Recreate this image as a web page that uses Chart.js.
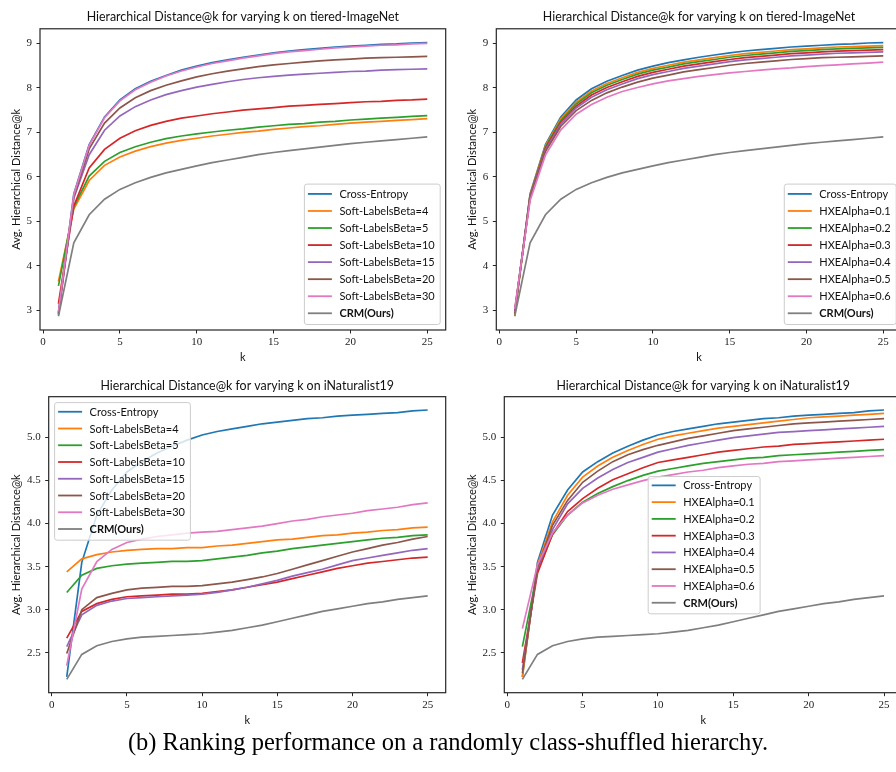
<!DOCTYPE html>
<html>
<head>
<meta charset="utf-8">
<title>Hierarchical Distance@k</title>
<script src="https://cdn.jsdelivr.net/npm/chart.js@4.4.0/dist/chart.umd.min.js"></script>
<style>
    html, body { margin: 0; padding: 0; background: #fff; width: 896px; height: 772px; overflow: hidden; }
    .plot { position: absolute; }
    #caption {
        position: absolute; left: 0; top: 729px; width: 896px;
        text-align: center; font-family: "Liberation Serif", serif;
        font-size: 24.5px; line-height: 26px; color: #000;
    }
</style>
</head>
<body>
<canvas id="tieredSoft" class="plot" style="left:0;top:0" width="448" height="372"></canvas>
<canvas id="tieredHxe" class="plot" style="left:448px;top:0" width="456" height="372"></canvas>
<canvas id="inatSoft" class="plot" style="left:0;top:372px" width="448" height="358"></canvas>
<canvas id="inatHxe" class="plot" style="left:448px;top:372px" width="456" height="358"></canvas>
<div id="caption">(b) Ranking performance on a randomly class-shuffled hierarchy.</div>

<script>
// k values (x axis) and tick labels
const kValues = [1, 2, 3, 4, 5, 6, 7, 8, 9, 10, 11, 12, 13, 14, 15, 16, 17, 18, 19, 20, 21, 22, 23, 24, 25];
const kTicks = [0, 5, 10, 15, 20, 25];
const tieredTicks = [3, 4, 5, 6, 7, 8, 9];
const inatTicks = [2.5, 3.0, 3.5, 4.0, 4.5, 5.0];

// series names
const softLabels = ['Cross-Entropy', 'Soft-LabelsBeta=4', 'Soft-LabelsBeta=5', 'Soft-LabelsBeta=10',
    'Soft-LabelsBeta=15', 'Soft-LabelsBeta=20', 'Soft-LabelsBeta=30', 'CRM(Ours)'];
const hxeLabels = ['Cross-Entropy', 'HXEAlpha=0.1', 'HXEAlpha=0.2', 'HXEAlpha=0.3',
    'HXEAlpha=0.4', 'HXEAlpha=0.5', 'HXEAlpha=0.6', 'CRM(Ours)'];

// tiered-ImageNet
const ceTiered = [2.95, 5.62, 6.73, 7.35, 7.73, 7.98, 8.15, 8.28, 8.40, 8.49, 8.57, 8.63, 8.69, 8.74, 8.79, 8.83, 8.86, 8.89, 8.92, 8.94, 8.96, 8.98, 8.99, 9.01, 9.02];
const softBeta4Tiered = [3.65, 5.28, 5.92, 6.26, 6.45, 6.58, 6.68, 6.76, 6.82, 6.87, 6.92, 6.96, 7.00, 7.03, 7.07, 7.10, 7.13, 7.15, 7.18, 7.21, 7.23, 7.25, 7.27, 7.29, 7.31];
const softBeta5Tiered = [3.55, 5.33, 6.02, 6.35, 6.55, 6.68, 6.78, 6.86, 6.92, 6.97, 7.01, 7.05, 7.08, 7.12, 7.15, 7.18, 7.20, 7.23, 7.25, 7.28, 7.30, 7.32, 7.34, 7.36, 7.38];
const softBeta10Tiered = [3.15, 5.35, 6.20, 6.62, 6.87, 7.04, 7.16, 7.25, 7.32, 7.37, 7.42, 7.46, 7.50, 7.53, 7.56, 7.59, 7.61, 7.63, 7.65, 7.67, 7.69, 7.70, 7.72, 7.73, 7.75];
const softBeta15Tiered = [2.90, 5.52, 6.50, 7.05, 7.37, 7.58, 7.73, 7.85, 7.94, 8.02, 8.08, 8.14, 8.19, 8.23, 8.26, 8.29, 8.31, 8.33, 8.35, 8.37, 8.38, 8.40, 8.41, 8.42, 8.43];
const softBeta20Tiered = [2.92, 5.55, 6.63, 7.21, 7.55, 7.78, 7.94, 8.06, 8.16, 8.25, 8.32, 8.38, 8.43, 8.48, 8.52, 8.55, 8.58, 8.61, 8.63, 8.65, 8.67, 8.68, 8.69, 8.70, 8.71];
const softBeta30Tiered = [2.97, 5.60, 6.71, 7.33, 7.71, 7.96, 8.13, 8.27, 8.38, 8.47, 8.55, 8.61, 8.67, 8.72, 8.77, 8.81, 8.84, 8.87, 8.90, 8.92, 8.94, 8.96, 8.97, 8.99, 9.00];
const hxe01Tiered = [2.88, 5.60, 6.70, 7.31, 7.68, 7.93, 8.10, 8.23, 8.35, 8.44, 8.51, 8.58, 8.63, 8.68, 8.73, 8.77, 8.80, 8.83, 8.86, 8.88, 8.90, 8.92, 8.93, 8.94, 8.95];
const hxe02Tiered = [2.92, 5.58, 6.67, 7.27, 7.64, 7.89, 8.06, 8.19, 8.31, 8.40, 8.47, 8.54, 8.59, 8.64, 8.69, 8.73, 8.76, 8.79, 8.82, 8.84, 8.86, 8.88, 8.89, 8.90, 8.91];
const hxe03Tiered = [2.95, 5.56, 6.64, 7.23, 7.59, 7.84, 8.01, 8.14, 8.26, 8.35, 8.42, 8.49, 8.54, 8.59, 8.64, 8.68, 8.71, 8.74, 8.77, 8.79, 8.81, 8.83, 8.84, 8.85, 8.86];
const hxe04Tiered = [2.97, 5.55, 6.61, 7.19, 7.55, 7.79, 7.96, 8.09, 8.21, 8.30, 8.37, 8.44, 8.49, 8.54, 8.59, 8.63, 8.66, 8.69, 8.72, 8.74, 8.76, 8.78, 8.79, 8.80, 8.81];
const hxe05Tiered = [3.00, 5.52, 6.57, 7.14, 7.49, 7.72, 7.89, 8.02, 8.13, 8.22, 8.29, 8.36, 8.41, 8.46, 8.51, 8.55, 8.58, 8.61, 8.64, 8.66, 8.68, 8.69, 8.70, 8.71, 8.72];
const hxe06Tiered = [3.03, 5.47, 6.49, 7.06, 7.41, 7.63, 7.79, 7.92, 8.01, 8.09, 8.16, 8.21, 8.26, 8.30, 8.34, 8.37, 8.40, 8.43, 8.45, 8.48, 8.50, 8.52, 8.54, 8.56, 8.58];
const crmTiered = [2.87, 4.52, 5.15, 5.50, 5.72, 5.87, 5.99, 6.09, 6.17, 6.25, 6.32, 6.38, 6.44, 6.50, 6.55, 6.59, 6.63, 6.67, 6.71, 6.75, 6.78, 6.81, 6.84, 6.87, 6.90];

// iNaturalist19
const ceInat = [2.22, 3.55, 4.10, 4.39, 4.60, 4.72, 4.82, 4.90, 4.97, 5.03, 5.07, 5.10, 5.13, 5.16, 5.18, 5.20, 5.22, 5.23, 5.25, 5.26, 5.27, 5.28, 5.29, 5.31, 5.32];
const softBeta4Inat = [3.44, 3.59, 3.64, 3.67, 3.69, 3.70, 3.71, 3.71, 3.72, 3.72, 3.74, 3.75, 3.77, 3.79, 3.81, 3.82, 3.84, 3.86, 3.87, 3.89, 3.90, 3.92, 3.93, 3.95, 3.96];
const softBeta5Inat = [3.20, 3.40, 3.48, 3.51, 3.53, 3.54, 3.55, 3.56, 3.56, 3.57, 3.59, 3.61, 3.63, 3.66, 3.68, 3.71, 3.73, 3.75, 3.77, 3.79, 3.81, 3.83, 3.84, 3.86, 3.87];
const softBeta10Inat = [2.67, 2.98, 3.07, 3.12, 3.15, 3.16, 3.17, 3.18, 3.18, 3.19, 3.21, 3.23, 3.26, 3.29, 3.32, 3.36, 3.40, 3.44, 3.48, 3.51, 3.54, 3.56, 3.58, 3.60, 3.61];
const softBeta15Inat = [2.57, 2.94, 3.05, 3.10, 3.13, 3.14, 3.15, 3.16, 3.17, 3.18, 3.20, 3.23, 3.26, 3.30, 3.34, 3.39, 3.43, 3.47, 3.52, 3.57, 3.60, 3.63, 3.66, 3.69, 3.71];
const softBeta20Inat = [2.49, 3.00, 3.14, 3.19, 3.23, 3.25, 3.26, 3.27, 3.27, 3.28, 3.30, 3.32, 3.35, 3.38, 3.42, 3.47, 3.52, 3.57, 3.62, 3.67, 3.71, 3.75, 3.78, 3.82, 3.85];
const softBeta30Inat = [2.35, 3.24, 3.56, 3.70, 3.78, 3.82, 3.85, 3.87, 3.89, 3.90, 3.91, 3.93, 3.95, 3.97, 4.00, 4.03, 4.05, 4.08, 4.10, 4.12, 4.15, 4.17, 4.19, 4.22, 4.24];
const hxe01Inat = [2.22, 3.52, 4.02, 4.33, 4.54, 4.67, 4.77, 4.85, 4.92, 4.98, 5.02, 5.05, 5.08, 5.11, 5.13, 5.15, 5.17, 5.19, 5.21, 5.23, 5.24, 5.25, 5.26, 5.27, 5.28];
const hxe02Inat = [2.57, 3.45, 3.87, 4.10, 4.25, 4.35, 4.43, 4.50, 4.56, 4.61, 4.64, 4.67, 4.70, 4.72, 4.74, 4.76, 4.77, 4.79, 4.80, 4.81, 4.82, 4.83, 4.84, 4.85, 4.86];
const hxe03Inat = [2.38, 3.42, 3.88, 4.14, 4.29, 4.41, 4.51, 4.58, 4.65, 4.71, 4.74, 4.77, 4.80, 4.83, 4.85, 4.87, 4.89, 4.90, 4.92, 4.93, 4.94, 4.95, 4.96, 4.97, 4.98];
const hxe04Inat = [2.30, 3.47, 3.93, 4.23, 4.41, 4.53, 4.63, 4.71, 4.77, 4.83, 4.87, 4.91, 4.94, 4.97, 5.00, 5.02, 5.04, 5.06, 5.07, 5.08, 5.09, 5.10, 5.11, 5.12, 5.13];
const hxe05Inat = [2.26, 3.49, 3.98, 4.27, 4.48, 4.61, 4.72, 4.80, 4.86, 4.91, 4.95, 4.99, 5.02, 5.05, 5.08, 5.10, 5.12, 5.14, 5.16, 5.17, 5.18, 5.19, 5.20, 5.21, 5.22];
const hxe06Inat = [2.78, 3.52, 3.89, 4.10, 4.24, 4.33, 4.40, 4.45, 4.50, 4.54, 4.57, 4.60, 4.62, 4.65, 4.67, 4.69, 4.70, 4.72, 4.73, 4.74, 4.75, 4.76, 4.77, 4.78, 4.79];
const crmInat = [2.19, 2.48, 2.58, 2.63, 2.66, 2.68, 2.69, 2.70, 2.71, 2.72, 2.74, 2.76, 2.79, 2.82, 2.86, 2.90, 2.94, 2.98, 3.01, 3.04, 3.07, 3.09, 3.12, 3.14, 3.16];

// matplotlib tab10
const colors = ['#1f77b4', '#ff7f0e', '#2ca02c', '#d62728', '#9467bd', '#8c564b', '#e377c2', '#7f7f7f'];

const xRange = [-0.2, 26.2];
const tieredRange = [2.56, 9.33];
const inatRange = [2.035, 5.475];

const SANS = 'Lato, "DejaVu Sans", sans-serif';
const SERIF = '"Liberation Serif", "DejaVu Serif", serif';

// box around the axes, like matplotlib spines
const frame = {
    id: 'frame',
    afterDatasetsDraw(chart) {
        const { ctx, chartArea: a } = chart;
        ctx.save();
        ctx.strokeStyle = '#262626';
        ctx.lineWidth = 1.2;
        ctx.strokeRect(a.left, a.top, a.right - a.left, a.bottom - a.top);
        ctx.restore();
    }
};

// legend drawn inside the axes
const boxLegend = {
    id: 'boxLegend',
    afterDraw(chart, args, opts) {
        const { ctx, chartArea: a } = chart;
        const items = chart.data.datasets;
        const last = items.length - 1;
        ctx.save();
        let maxW = 0;
        items.forEach((ds, i) => {
            ctx.font = (i === last ? 'bold ' : '') + opts.fontSize + 'px ' + SANS;
            maxW = Math.max(maxW, ctx.measureText(ds.label).width);
        });
        const w = 4 + 24 + 7.5 + maxW + 5;
        const h = opts.padT + opts.rowH * items.length + opts.padB;
        let left, top;
        if (opts.loc === 'lower right') {
            left = a.right - opts.inset - w;
            top = a.bottom - opts.inset - h;
        } else if (opts.loc === 'upper left') {
            left = a.left + opts.inset;
            top = a.top + opts.inset;
        } else {
            left = a.left + opts.dx;
            top = a.top + opts.dy;
        }
        ctx.beginPath();
        ctx.roundRect(left + 0.5, top + 0.5, w, h, 2.5);
        ctx.fillStyle = 'rgba(255,255,255,0.8)';
        ctx.fill();
        ctx.strokeStyle = '#cccccc';
        ctx.lineWidth = 1;
        ctx.stroke();
        ctx.textBaseline = 'middle';
        items.forEach((ds, i) => {
            const cy = top + opts.padT + opts.rowH * (i + 0.5);
            ctx.strokeStyle = ds.borderColor;
            ctx.lineWidth = 1.8;
            ctx.beginPath();
            ctx.moveTo(left + 4, cy);
            ctx.lineTo(left + 28, cy);
            ctx.stroke();
            ctx.font = (i === last ? 'bold ' : '') + opts.fontSize + 'px ' + SANS;
            ctx.fillStyle = '#111';
            ctx.fillText(ds.label, left + 35.5, cy + 0.5);
        });
        ctx.restore();
    }
};

function makeDatasets(labels, seriesList) {
    const n = seriesList.length;
    return seriesList.map((series, i) => ({
        label: labels[i],
        data: series.map((v, j) => ({ x: kValues[j], y: v })),
        borderColor: colors[i],
        backgroundColor: colors[i],
        borderWidth: 1.7,
        pointRadius: 0,
        tension: 0,
        fill: false,
        order: n - 1 - i   // later series drawn on top, as in matplotlib
    }));
}

/**
 * Build one Hierarchical Distance@k panel
 */
function createPanel(canvasId, title, labels, seriesList, yTicks, yRange, decimals, geom, legend) {
    const canvas = document.getElementById(canvasId);
    return new Chart(canvas.getContext('2d'), {
        type: 'line',
        data: { datasets: makeDatasets(labels, seriesList) },
        options: {
            responsive: false,
            devicePixelRatio: 1,
            animation: false,
            events: [],
            layout: { padding: { left: 0, right: geom.padRight, top: 0, bottom: 0 } },
            plugins: {
                legend: { display: false },
                tooltip: { enabled: false },
                boxLegend: legend,
                title: {
                    display: true,
                    text: title,
                    fullSize: false,
                    color: '#111',
                    font: { family: SANS, size: 12.4, weight: 'normal', lineHeight: 1.2 },
                    padding: { top: geom.titleTop, bottom: geom.titleBottom }
                }
            },
            scales: {
                x: {
                    type: 'linear',
                    min: xRange[0],
                    max: xRange[1],
                    afterBuildTicks: scale => { scale.ticks = kTicks.map(v => ({ value: v })); },
                    afterFit: scale => { scale.height = geom.xAxisHeight; },
                    ticks: {
                        color: '#222',
                        padding: 2.5,
                        maxRotation: 0,
                        font: { family: SERIF, size: 11 }
                    },
                    grid: { drawOnChartArea: false, drawTicks: true, tickLength: 3.5, color: '#262626' },
                    border: { display: false },
                    title: {
                        display: true,
                        text: 'k',
                        color: '#111',
                        font: { family: SANS, size: 11, lineHeight: 1.2 },
                        padding: { top: 0, bottom: geom.xTitleBottom }
                    }
                },
                y: {
                    type: 'linear',
                    min: yRange[0],
                    max: yRange[1],
                    afterBuildTicks: scale => { scale.ticks = yTicks.map(v => ({ value: v })); },
                    afterFit: scale => { scale.width = geom.yAxisWidth; },
                    ticks: {
                        color: '#222',
                        padding: 4.5,
                        font: { family: SERIF, size: 11 },
                        callback: v => decimals ? v.toFixed(1) : String(v)
                    },
                    grid: { drawOnChartArea: false, drawTicks: true, tickLength: 3.5, color: '#262626' },
                    border: { display: false },
                    title: {
                        display: true,
                        text: 'Avg. Hierarchical Distance@k',
                        color: '#111',
                        font: { family: SANS, size: 11, lineHeight: 1.2 },
                        padding: { top: geom.yTitleLeft, bottom: 0 }
                    }
                }
            }
        },
        plugins: [frame, boxLegend]
    });
}

const titleTiered = 'Hierarchical Distance@k for varying k on tiered-ImageNet';
const titleInat = 'Hierarchical Distance@k for varying k on iNaturalist19';

createPanel('tieredSoft', titleTiered, softLabels,
    [ceTiered, softBeta4Tiered, softBeta5Tiered, softBeta10Tiered, softBeta15Tiered, softBeta20Tiered, softBeta30Tiered, crmTiered],
    tieredTicks, tieredRange, false,
    { padRight: 2.3, titleTop: 9.3, titleBottom: 4.6, xAxisHeight: 42, xTitleBottom: 8.4, yAxisWidth: 40, yTitleLeft: 9.4 },
    { loc: 'lower right', inset: 6, fontSize: 11, rowH: 17.05, padT: 1.8, padB: 2.2 });

createPanel('tieredHxe', titleTiered, hxeLabels,
    [ceTiered, hxe01Tiered, hxe02Tiered, hxe03Tiered, hxe04Tiered, hxe05Tiered, hxe06Tiered, crmTiered],
    tieredTicks, tieredRange, false,
    { padRight: 2.3, titleTop: 9.3, titleBottom: 4.6, xAxisHeight: 42, xTitleBottom: 8.4, yAxisWidth: 48.3, yTitleLeft: 17.4 },
    { loc: 'lower right', inset: 6, fontSize: 11, rowH: 17.05, padT: 1.8, padB: 2.2 });

createPanel('inatSoft', titleInat, softLabels,
    [ceInat, softBeta4Inat, softBeta5Inat, softBeta10Inat, softBeta15Inat, softBeta20Inat, softBeta30Inat, crmInat],
    inatTicks, inatRange, true,
    { padRight: 2.3, titleTop: 6.6, titleBottom: 3.2, xAxisHeight: 37.3, xTitleBottom: 3.4, yAxisWidth: 48.7, yTitleLeft: 9.4 },
    { loc: 'upper left', inset: 5.4, fontSize: 11, rowH: 16.75, padT: 1.3, padB: 2.3 });

createPanel('inatHxe', titleInat, hxeLabels,
    [ceInat, hxe01Inat, hxe02Inat, hxe03Inat, hxe04Inat, hxe05Inat, hxe06Inat, crmInat],
    inatTicks, inatRange, true,
    { padRight: 1.9, titleTop: 6.6, titleBottom: 3.2, xAxisHeight: 37.3, xTitleBottom: 3.4, yAxisWidth: 56.3, yTitleLeft: 17.4 },
    { loc: 'free', dx: 143.4, dy: 79.3, fontSize: 11, rowH: 16.77, padT: 1.0, padB: 2.2 });
</script>
</body>
</html>
